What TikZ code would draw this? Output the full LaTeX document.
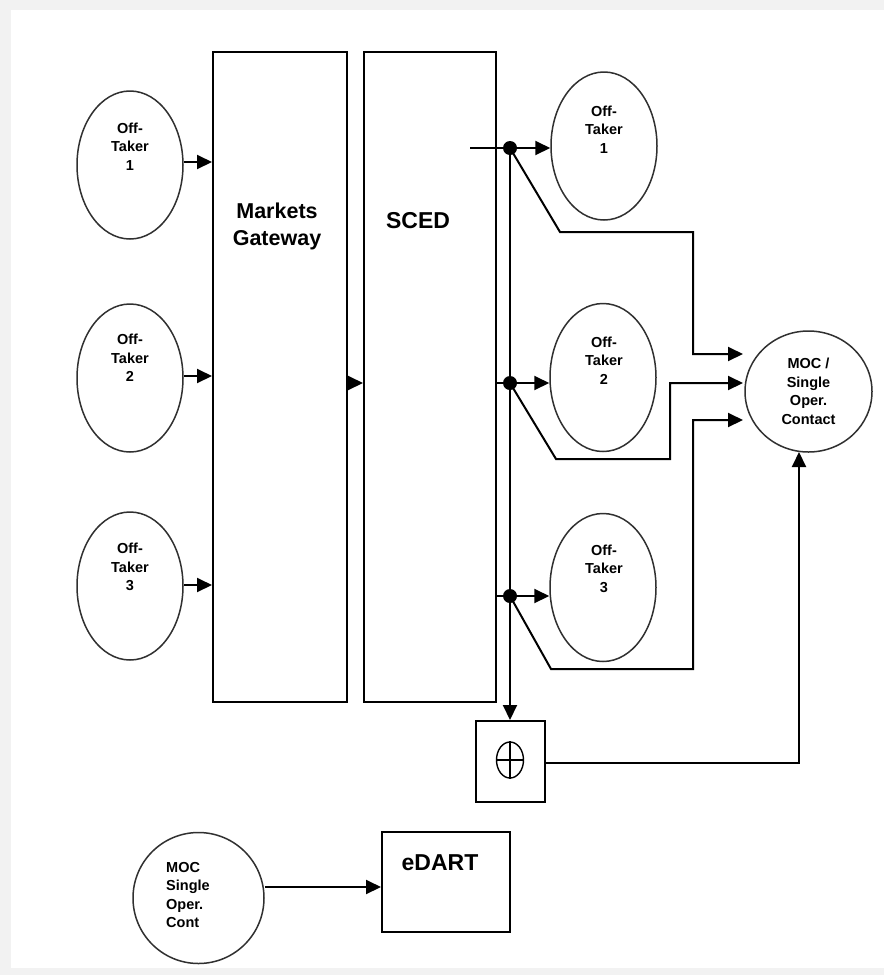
\documentclass[tikz,border=0pt]{standalone}
\usepackage{fontspec}
\setmainfont{Liberation Sans}
\usetikzlibrary{arrows.meta,shapes.geometric}
\definecolor{bggray}{HTML}{F2F2F2}
\definecolor{edgegray}{HTML}{303030}
\begin{document}
\begin{tikzpicture}[x=1pt,y=-1pt,
  conn/.style={line width=2pt, black},
  arr/.style={conn, -{Triangle[length=15pt,width=14pt]}},
  blockbox/.style={draw, line width=2pt, inner sep=0pt},
  oval/.style={draw=edgegray, line width=1.5pt, ellipse, inner sep=0pt,
    minimum width=106pt, minimum height=148pt},
  smalltxt/.style={font=\bfseries\fontsize{14.5}{18.5}\selectfont, align=center, inner sep=0pt},
  bigtxt/.style={font=\bfseries\fontsize{21.5}{27}\selectfont, align=center, inner sep=0pt},
  dotnode/.style={circle, fill=black, minimum size=14pt, inner sep=0pt}
]
% background
\fill[bggray] (0,0) rectangle (884,975);
\fill[white] (11,10) rectangle (884,968);
\useasboundingbox (0,0) rectangle (884,975);

% main blocks
\node[blockbox, minimum width=134pt, minimum height=650pt] (mg) at (280,377) {};
\node[bigtxt] (mgtxt) at (277,226.5) {Markets\\Gateway};
\node[blockbox, minimum width=132pt, minimum height=650pt] (sced) at (430,377) {};
\node[bigtxt, font=\bfseries\fontsize{23}{27}\selectfont] (scedtxt) at (418,221) {SCED};

% left off-takers
\node[oval] (otl1) at (130,165) {};
\node[smalltxt] (otl1t) at (130,146.5) {Off-\\Taker\\1};
\node[oval] (otl2) at (130,378) {};
\node[smalltxt] (otl2t) at (130,358) {Off-\\Taker\\2};
\node[oval] (otl3) at (130,586) {};
\node[smalltxt] (otl3t) at (130,567) {Off-\\Taker\\3};

% right off-takers
\node[oval] (otr1) at (604,146) {};
\node[smalltxt] (otr1t) at (604,129.5) {Off-\\Taker\\1};
\node[oval] (otr2) at (603,377.5) {};
\node[smalltxt] (otr2t) at (604,360.5) {Off-\\Taker\\2};
\node[oval] (otr3) at (603,587.5) {};
\node[smalltxt] (otr3t) at (604,568.5) {Off-\\Taker\\3};

% MOC circle
\node[draw=edgegray, line width=1.5pt, ellipse, inner sep=0pt,
  minimum width=127pt, minimum height=121pt, smalltxt] (moc) at (808.5,391.5)
  {MOC /\\Single\\Oper.\\Contact};

% dots
\node[dotnode] (d1) at (510,148) {};
\node[dotnode] (d2) at (510,383) {};
\node[dotnode] (d3) at (510,596) {};

% sum box
\node[blockbox, minimum width=69pt, minimum height=81pt] (sumbox) at (510.5,761.5) {};
\node[draw=black, line width=1.4pt, ellipse, inner sep=0pt,
  minimum width=27pt, minimum height=36pt] (sym) at (510,760) {};
\draw[line width=1.4pt] (sym.north) -- (sym.south) (sym.west) -- (sym.east);

% bottom
\node[draw=edgegray, line width=1.5pt, circle, inner sep=0pt, minimum size=131pt] (bc) at (198.5,898) {};
\node[smalltxt, align=left, anchor=west] (bct) at (166,895) {MOC\\Single\\Oper.\\Cont};
\node[blockbox, minimum width=128pt, minimum height=100pt] (edart) at (446,882) {};
\node[bigtxt, font=\bfseries\fontsize{23}{27}\selectfont] (edarttxt) at (440,863) {eDART};

% coordinates
\coordinate (s1) at (470,148);
\coordinate (m1) at (743,354);
\coordinate (m2) at (743,383);
\coordinate (m3) at (743,420);
\coordinate (mb) at (799,452);

% left arrows
\draw[arr] (otl1.east |- 0,162) -- (mg.west |- 0,162);
\draw[arr] (otl2.east |- 0,376) -- (mg.west |- 0,376);
\draw[arr] (otl3.east |- 0,585) -- (mg.west |- 0,585);
\draw[arr] (mg.east |- 0,383) -- (sced.west |- 0,383);

% SCED outputs
\draw[conn] (s1) -- (d1.center);
\draw[conn] (d2.center -| sced.east) -- (d2.center);
\draw[conn] (d3.center -| sced.east) -- (d3.center);
\draw[arr] (d1.center) -- (d1.center -| otr1.west);
\draw[arr] (d2.center) -- (d2.center -| otr2.west);
\draw[arr] (d3.center) -- (d3.center -| otr3.west);
\draw[arr] (d1.center) -- (d1.center |- sumbox.north);

% to MOC
\draw[arr] (d1.center) -- (560,232) -- (693,232) -- (693,354) -- (m1);
\draw[arr] (d2.center) -- (556,459) -- (670,459) -- (670,383) -- (m2);
\draw[arr] (d3.center) -- (551,669) -- (693,669) -- (693,420) -- (m3);
\draw[arr] (sumbox.east |- 0,763) -- (799,763) -- (mb);

% bottom arrow
\draw[arr] (bc.east |- 0,887) -- (edart.west |- 0,887);
\end{tikzpicture}
\end{document}
